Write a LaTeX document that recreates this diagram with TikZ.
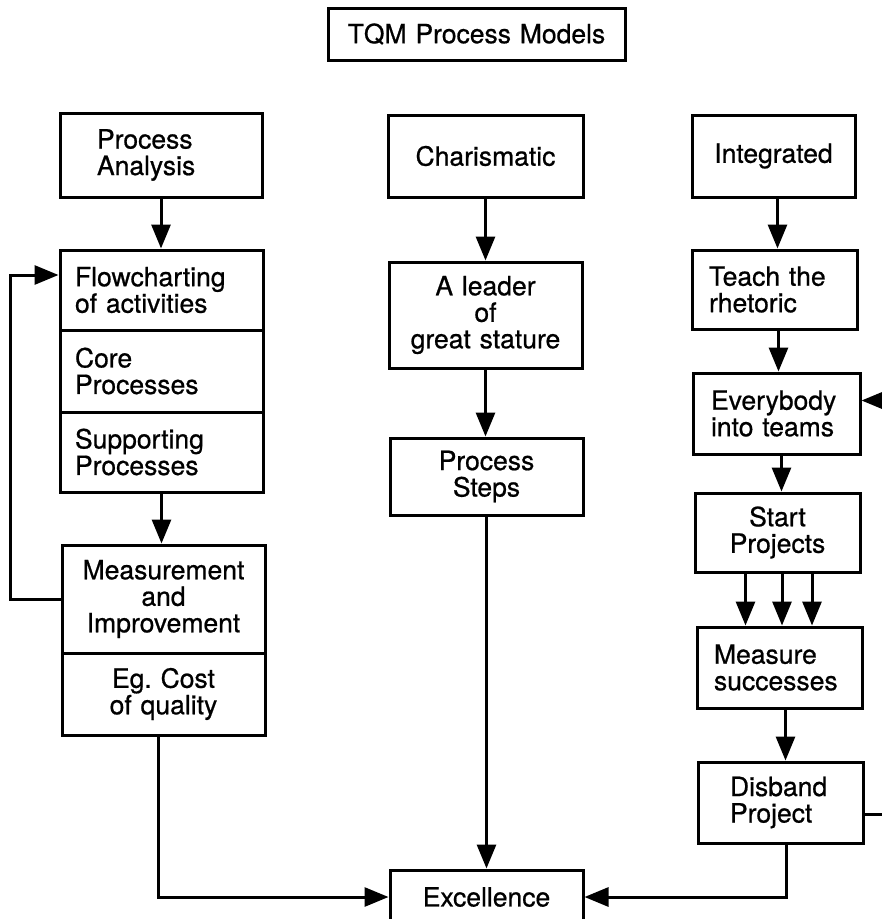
\documentclass[tikz,border=0pt]{standalone}
\usepackage{fontspec}
\setmainfont{TeX Gyre Heros}[FakeBold=0.7]
\usetikzlibrary{arrows.meta}
\frenchspacing
\begin{document}
\begin{tikzpicture}[x=1pt,y=-1pt,
  box/.style={draw, line width=3pt, inner ysep=0pt, font=\fontsize{26.5}{26.5}\selectfont},
  cbox/.style={box, inner xsep=0pt, align=center},
  lbox/.style={box, align=left},
  arr/.style={line width=3pt, -{Triangle[length=24pt,width=19pt]}}]
\useasboundingbox (0,0) rectangle (882,919);
\fill[white] (0,0) rectangle (882,919);
% title
\node[cbox, minimum width=297pt, minimum height=52pt, text width=280pt] (title) at (476.5,34) {TQM Process Models};
% left column
\node[lbox, minimum width=202pt, minimum height=84pt, inner xsep=37pt, text width=128pt] (pa) at (161,155) {Process\\Analysis};
\node[lbox, minimum width=203pt, minimum height=80pt, inner xsep=15pt, text width=173pt] (flow) at (161.5,290) {Flowcharting\\of activities};
\node[lbox, minimum width=203pt, minimum height=82pt, inner xsep=15pt, text width=173pt] (core) at (161.5,371) {Core\\Processes};
\node[lbox, minimum width=203pt, minimum height=80pt, inner xsep=15pt, text width=173pt] (supp) at (161.5,452) {Supporting\\Processes};
\node[cbox, minimum width=203pt, minimum height=108pt, text width=195pt] (meas) at (163.5,599) {Measurement\\and\\Improvement};
\node[cbox, minimum width=203pt, minimum height=82pt, text width=195pt] (eg) at (163.5,694) {Eg.\ Cost\\of quality};
% middle column
\node[cbox, minimum width=195pt, minimum height=82pt, text width=185pt] (char) at (485.5,156) {Charismatic};
\node[cbox, minimum width=193pt, minimum height=106pt, text width=185pt] (lead) at (485.5,315) {A leader\\of\\great stature};
\node[cbox, minimum width=193pt, minimum height=77pt, text width=185pt] (steps) at (486.5,476.5) {Process\\Steps};
\node[cbox, minimum width=193pt, minimum height=54pt, text width=185pt] (exc) at (486.5,897) {Excellence};
% right column
\node[cbox, minimum width=163pt, minimum height=82pt, text width=155pt] (integ) at (773.5,156) {Integrated};
\node[lbox, minimum width=165pt, minimum height=79pt, inner xsep=17pt, text width=131pt] (teach) at (774.5,289.5) {Teach the\\rhetoric};
\node[lbox, minimum width=167pt, minimum height=81pt, inner xsep=18pt, text width=131pt] (every) at (776.5,413.5) {Everybody\\into teams};
\node[cbox, minimum width=165pt, minimum height=79pt, text width=155pt] (start) at (777.5,532.5) {Start\\Projects};
\node[lbox, minimum width=165pt, minimum height=81pt, inner xsep=17pt, text width=131pt] (msr) at (779.5,667.5) {Measure\\successes};
\node[lbox, minimum width=165pt, minimum height=81pt, inner xsep=32pt, text width=101pt] (disb) at (780.5,802.5) {Disband\\Project};
% connectors left
\draw[arr] (pa.south) -- (pa.south |- flow.north);
\draw[arr] (supp.south) -- (supp.south |- meas.north);
\draw[arr] (meas.west) -- ++(-50,0) |- ([yshift=15pt]flow.west);
\draw[arr] ([xshift=-5pt]eg.south) |- (exc.west);
% connectors middle
\draw[arr] (char.south) -- (char.south |- lead.north);
\draw[arr] (lead.south) -- (lead.south |- steps.north);
\draw[arr] (steps.south) -- (steps.south |- exc.north);
% connectors right
\draw[arr] ([xshift=4pt]integ.south) -- ([xshift=4pt]integ.south |- teach.north);
\draw[arr] ([xshift=4pt]teach.south) -- ([xshift=4pt]teach.south |- every.north);
\draw[arr] ([xshift=5pt]every.south) -- ([xshift=5pt]every.south |- start.north);
\draw[arr] ([xshift=-32pt]start.south) -- ([xshift=-32pt]start.south |- msr.north);
\draw[arr] ([xshift=4.5pt]start.south) -- ([xshift=4.5pt]start.south |- msr.north);
\draw[arr] ([xshift=34.5pt]start.south) -- ([xshift=34.5pt]start.south |- msr.north);
\draw[arr] ([xshift=6pt]msr.south) -- ([xshift=6pt]msr.south |- disb.north);
\draw[arr] ([xshift=5.5pt]disb.south) |- (exc.east);
\draw[arr] ([yshift=-12pt]disb.east) -- ++(40,0) coordinate (rfb) |- ([yshift=13pt]every.east);
\end{tikzpicture}
\end{document}
